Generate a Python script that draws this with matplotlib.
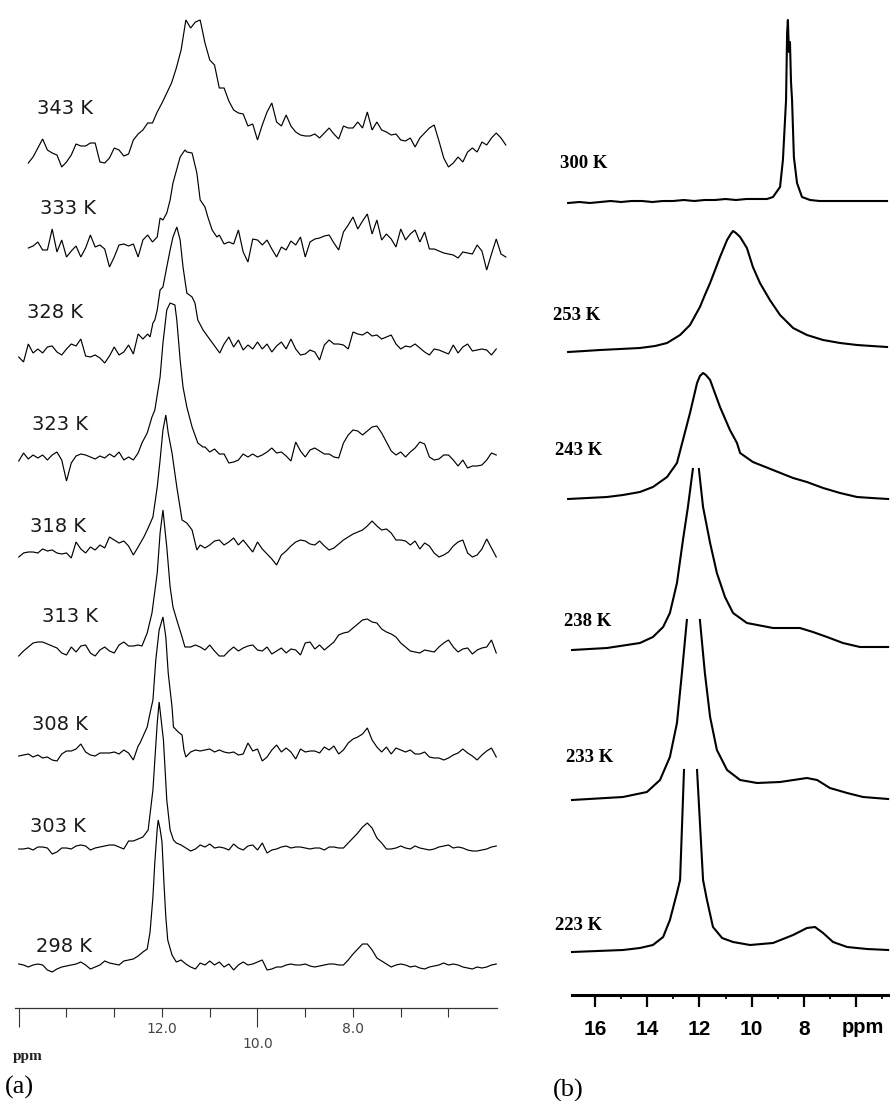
import numpy as np
import matplotlib
matplotlib.use("Agg")
import matplotlib.pyplot as plt
from matplotlib import transforms

N = None  # grid points replaced by the peak vertices

# ---------------- panel (a): 1H NMR, high temperature ----------------
labels_a = ["343 K", "333 K", "328 K", "323 K", "318 K", "313 K", "308 K", "303 K", "298 K"]
grid_start_a = [14.8, 14.8, 15.0, 15.0, 15.0, 15.0, 15.0, 15.0, 15.0]   # ppm of first sample
grid_step_a = 0.1                                                         # ppm per sample

int_343 = [-13, -7, 2, 11, 0, -3, -5, -17, -12, -5,
           6, 4, 4, 7, 7, -12, -13, -8, 2, 0,
           -6, -4, 10, 16, 20, 27, 27, 38, 47, 57,
           67, 82, 100, 130, 122, 128, 130, 107, 90, 85,
           62, 62, 49, 40, 37, 36, 24, 26, 10, 25,
           38, 47, 28, 24, 35, 24, 18, 15, 14, 14,
           16, 12, 17, 22, 16, 11, 24, 22, 22, 28,
           22, 38, 20, 28, 20, 18, 15, 16, 10, 9,
           12, 3, 12, 17, 22, 25, 9, -8, -17, -13,
           -7, -12, -2, 2, -2, 8, 5, 12, 17, 12, 5]
int_333 = [-1, 1, 5, -3, -3, 18, -5, 7, -10, -4,
           1, -10, -1, 12, 0, 2, -2, -20, -10, 2,
           3, 1, 3, -10, 7, 12, 5, N, N, N,
           N, N, N, N, N, N, N, N, N, N,
           12, 3, 5, 3, 17, -5, -15, 8, 7, 2,
           7, -2, -10, 0, -3, 6, 2, 10, -10, 5,
           8, 9, 11, 12, 4, -3, 15, 22, 30, 18,
           26, 33, 13, 27, 7, 13, 8, 0, 18, 7,
           13, 17, 5, 15, -2, -2, -4, -6, -7, -8,
           -11, -5, -6, -7, 2, -4, -23, -7, 8, -7, -10]
int_328 = [-5, -10, 8, -1, 3, -1, 5, 6, 0, -3,
           3, 8, 6, 13, -4, -5, -3, -6, -11, -4,
           5, -3, 0, 7, -2, 18, 13, 18, N, N,
           N, N, N, N, N, N, N, N, N, N,
           N, N, N, 8, 15, 5, 12, 2, 7, 3,
           10, 3, 8, 0, 6, 10, 3, 13, 3, -3,
           -2, 2, 0, -8, 7, 12, 8, 8, 7, 3,
           20, 18, 17, 20, 16, 17, 13, 15, 17, 8,
           3, 6, 5, 8, 4, 0, -3, 3, 2, 0,
           -2, 7, -1, 5, 8, 1, 2, 3, 2, -3, 3]
int_323 = [-4, 4, -2, 2, -1, 2, -3, 2, 5, -3,
           -24, -6, 1, 3, 2, 0, -2, 1, -1, 3,
           0, 5, -3, 0, -3, N, N, N, N, N,
           N, N, N, N, N, N, N, N, N, 10,
           5, 8, 3, 3, -6, -5, -3, 3, 0, 3,
           0, 2, 5, 9, 4, 5, 1, -4, 15, 6,
           0, 7, 9, 6, 3, 3, 0, -1, 14, 22,
           27, 26, 22, 26, 30, 31, 24, 15, 6, 2,
           5, 0, 5, 9, 15, 13, 0, -3, -2, 2,
           2, -3, -9, -3, -11, -9, -9, -8, -3, 4, 2]
int_318 = [-4, 0, 1, 1, 0, 4, 2, 3, 0, -1,
           0, -5, 11, 4, 0, 6, 3, 8, 5, 16,
           13, 10, 12, 7, -2, 6, N, N, N, N,
           N, N, N, N, N, N, N, N, 8, 5,
           8, 12, 13, 8, 11, 15, 8, 13, 7, 1,
           11, 4, -1, -6, -12, -2, 2, 7, 11, 13,
           12, 9, 8, 12, 7, 3, 5, 9, 13, 16,
           19, 21, 23, 27, 32, 27, 23, 24, 20, 13,
           13, 12, 8, 12, 4, 10, 7, 0, -4, -2,
           1, 7, 11, 13, 0, -4, -2, 4, 14, 5, -4]
int_313 = [-8, -3, 1, 5, 6, 6, 4, 2, 0, -5,
           -7, 1, -4, 2, 3, -5, -8, -2, 1, -3,
           -5, 3, 6, 2, 2, 3, N, N, N, N,
           N, N, N, N, N, N, 1, 3, 1, -2,
           3, -3, -8, -8, -3, 1, -3, 0, 2, 3,
           -2, -3, 1, -6, -3, 0, -5, -1, -2, -7,
           5, 6, -1, 3, -2, 2, 6, 13, 15, 16,
           20, 24, 28, 29, 26, 25, 19, 16, 14, 11,
           5, 1, -3, -4, -5, -2, -3, -4, 1, 5,
           8, 1, -4, -1, 0, -6, -2, 0, 1, 8, -5]
int_308 = [-1, 0, 1, -2, 0, -3, -2, -5, -6, 1,
           4, 4, 6, 11, 3, 0, -1, 2, 2, 2,
           3, 1, 5, 2, -5, 9, N, N, N, N,
           N, N, N, N, N, N, 3, 5, 4, 5,
           6, 3, 5, 3, 2, 3, 0, 1, 12, 4,
           6, -6, -2, 5, 10, 3, 7, 3, -4, 6,
           3, 4, 4, 2, 8, 5, 9, 1, 5, 12,
           16, 18, 21, 27, 15, 8, 3, 8, 1, 7,
           5, 3, 5, 1, 1, 3, -2, -3, -3, -5,
           -3, 0, 2, 6, 2, -1, -5, 0, 4, 7, -2]
int_303 = [-1, -1, 0, -2, 1, 1, 0, -6, -4, 0,
           0, -1, 2, 3, 2, -2, 0, 1, 2, 3,
           3, 1, -1, 7, 7, 9, N, N, N, N,
           N, N, N, 5, 3, 0, -3, -1, 3, 1,
           4, 0, 1, 0, -2, 4, 0, -2, 2, 3,
           -2, 5, -5, -2, -1, 1, 2, 0, 1, 1,
           0, -1, 0, 0, -2, 1, 1, 0, 0, 5,
           10, 15, 21, 25, 20, 10, 5, -1, -1, 0,
           2, 0, -1, 2, 0, -1, -2, -1, 1, 2,
           3, 0, 1, 0, -2, -3, -3, -2, -1, 1, 2]
int_298 = [3, 2, 0, 2, 3, 2, -3, -5, -2, 0,
           1, 2, 3, 5, 2, -2, 0, 2, 6, 4,
           3, 2, 6, 7, 8, 11, N, N, N, N,
           N, N, N, 5, 7, 3, 0, -2, 4, 2,
           6, 2, 5, 0, 3, -3, 2, 5, 2, 3,
           5, 7, -3, -2, 0, 0, 2, 3, 2, 2,
           3, 1, 0, 1, 2, 3, 3, 2, 2, 7,
           13, 18, 23, 23, 17, 9, 6, 3, 0, 2,
           3, 2, 0, 1, -1, -2, 0, 1, 2, 4,
           2, 3, 2, 0, -1, -2, 0, -1, 0, 2, 3]
grid_a = [int_343, int_333, int_328, int_323, int_318, int_313, int_308, int_303, int_298]

# main resonance of each spectrum, read at finer spacing (ppm, intensity)
pk_ppm_343, pk_int_343 = [], []
pk_ppm_333 = [12.10, 12.04, 11.98, 11.90, 11.83, 11.77, 11.62, 11.52, 11.48, 11.37, 11.27, 11.20, 11.10, 11.04, 10.95, 10.85]
pk_int_333 = [10, 29, 27, 34, 47, 64, 90, 97, 95, 94, 74, 47, 40, 30, 17, 10]
pk_ppm_328 = [12.25, 12.19, 12.15, 12.10, 12.04, 11.98, 11.90, 11.83, 11.77, 11.69, 11.62, 11.56, 11.48, 11.37, 11.31, 11.25, 11.14, 10.99, 10.79]
pk_int_328 = [15, 29, 32, 42, 62, 65, 85, 102, 115, 125, 112, 85, 59, 55, 49, 32, 22, 12, -1]
pk_ppm_323 = [12.50, 12.42, 12.31, 12.21, 12.15, 12.04, 11.98, 11.90, 11.83, 11.73, 11.69, 11.62, 11.56, 11.48, 11.37, 11.25, 11.14]
pk_int_323 = [4, 14, 24, 40, 47, 80, 114, 147, 154, 152, 137, 97, 70, 50, 30, 14, 10]
pk_ppm_318 = [12.38, 12.29, 12.19, 12.10, 12.04, 11.98, 11.92, 11.87, 11.79, 11.69, 11.58, 11.48, 11.37, 11.27]
pk_int_318 = [16, 25, 36, 66, 93, 123, 138, 120, 100, 66, 33, 30, 23, 3]
pk_ppm_313 = [12.42, 12.31, 12.21, 12.10, 12.04, 11.98, 11.90, 11.83, 11.77, 11.69, 11.58, 11.52]
pk_int_313 = [2, 15, 35, 75, 115, 138, 101, 61, 41, 28, 11, 1]
pk_ppm_308 = [12.46, 12.31, 12.25, 12.19, 12.13, 12.06, 11.98, 11.92, 11.87, 11.79, 11.76, 11.66, 11.58, 11.54, 11.50]
pk_int_308 = [12, 28, 42, 55, 95, 125, 138, 118, 82, 48, 28, 23, 20, 5, -2]
pk_ppm_303 = [12.40, 12.29, 12.19, 12.10, 12.06, 11.97, 11.90, 11.83, 11.76]
pk_int_303 = [11, 18, 58, 125, 146, 108, 48, 18, 8]
pk_ppm_298 = [12.40, 12.31, 12.25, 12.19, 12.15, 12.10, 12.08, 12.04, 12.00, 11.96, 11.92, 11.88, 11.79]
pk_int_298 = [15, 18, 35, 70, 105, 138, 147, 138, 125, 85, 50, 27, 12]
peaks_a = [(pk_ppm_343, pk_int_343), (pk_ppm_333, pk_int_333), (pk_ppm_328, pk_int_328),
           (pk_ppm_323, pk_int_323), (pk_ppm_318, pk_int_318), (pk_ppm_313, pk_int_313),
           (pk_ppm_308, pk_int_308), (pk_ppm_303, pk_int_303), (pk_ppm_298, pk_int_298)]

ticks_a_major = [15, 10]
ticks_a_minor = [14, 13, 12, 11, 9, 8, 7, 6]
ticklabels_a = [(12.0, "12.0", 0), (10.0, "10.0", 1), (8.0, "8.0", 0)]

# ---------------- panel (b): 1H NMR, low temperature ----------------
labels_b = ["300 K", "253 K", "243 K", "238 K", "233 K", "223 K"]
ppm_300 = [17.03, 16.6, 16.2, 15.8, 15.4, 15.0, 14.6, 14.2, 13.8, 13.4, 13.0, 12.6, 12.2, 11.8, 11.4, 11.0, 10.6, 10.2, 9.8, 9.41,
           9.18, 8.91, 8.80, 8.68, 8.64, 8.61, 8.57, 8.53, 8.49, 8.45, 8.38, 8.26, 8.07, 7.76, 7.4, 7.0, 6.6, 6.2, 5.8, 5.4, 5.0, 4.81]
int_300 = [-1, 0, -1, 0, 1, 0, 1, 1, 0, 1, 1, 2, 1, 2, 2, 3, 2, 3, 3, 3,
           5, 15, 42, 102, 169, 182, 150, 160, 120, 102, 45, 19, 5, 2, 1, 1, 1, 1, 1, 1, 1, 1]
ppm_253 = [17.03, 16.4, 15.81, 15.04, 14.28, 13.7, 13.24, 12.74, 12.36, 11.98, 11.79, 11.59, 11.40, 11.21, 10.94, 10.80,
           10.71, 10.60, 10.44, 10.18, 9.95, 9.68, 9.30, 8.91, 8.41, 7.88, 7.26, 6.61, 5.96, 5.4, 4.81]
int_253 = [-1, 0, 1, 2, 3, 5, 8, 16, 26, 44, 56, 68, 81, 94, 111, 117,
           120, 118, 114, 103, 84, 68, 51, 36, 23, 16, 11, 8, 6, 5, 4]
ppm_243 = [17.03, 15.54, 14.93, 14.28, 13.78, 13.24, 12.86, 12.63, 12.36, 12.09, 11.98, 11.86, 11.75, 11.59,
           11.21, 10.83, 10.56, 10.44, 9.95, 9.18, 8.41, 7.88, 7.26, 6.61, 5.96, 5.4, 4.77]
int_243 = [0, 2, 4, 7, 12, 22, 36, 59, 86, 116, 123, 126, 124, 119,
           92, 69, 56, 46, 37, 29, 21, 17, 11, 6, 2, 1, 0]
# off-scale tops are cut in the original figure (nan = cut)
ppm_238 = [16.88, 15.54, 14.28, 13.78, 13.39, 13.13, 12.86, 12.63, 12.44, 12.25, np.nan, 12.02, 11.86, 11.59, 11.33,
           11.02, 10.71, 10.18, 9.18, 8.15, 7.65, 7.11, 6.50, 5.85, 4.77]
int_238 = [-1, 1, 6, 12, 22, 36, 66, 109, 142, 180, np.nan, 180, 142, 106, 76,
           52, 36, 26, 21, 21, 17, 12, 6, 2, 2]
ppm_233 = [16.88, 14.93, 14.01, 13.51, 13.13, 12.86, 12.67, 12.48, np.nan, 11.98, 11.79, 11.59, 11.33, 10.94,
           10.44, 9.79, 8.91, 7.88, 7.49, 7.00, 6.34, 5.73, 4.77]
int_233 = [0, 3, 8, 20, 43, 77, 127, 180, np.nan, 180, 127, 83, 50, 30,
           20, 17, 18, 22, 20, 12, 7, 3, 1]
ppm_223 = [16.88, 14.93, 14.28, 13.78, 13.39, 13.13, 12.86, 12.74, 12.59, np.nan, 12.09, 11.86, 11.71, 11.48, 11.13,
           10.71, 10.06, 9.18, 8.41, 7.88, 7.57, 7.26, 6.88, 6.34, 5.58, 4.77]
int_223 = [0, 2, 4, 7, 15, 32, 59, 72, 182, np.nan, 182, 72, 52, 25, 14,
           10, 7, 9, 17, 24, 25, 19, 10, 5, 3, 2]
spectra_b = [(ppm_300, int_300), (ppm_253, int_253), (ppm_243, int_243),
             (ppm_238, int_238), (ppm_233, int_233), (ppm_223, int_223)]

ticks_b_major = [16, 14, 12, 10, 8, 6]
ticks_b_minor = [15, 13, 11, 9, 7, 5]
ticklabels_b = ["16", "14", "12", "10", "8"]

# ---------------- layout (pixels of the 891 x 1101 figure) ----------------
W, H = 891, 1101
base_px_a = [150, 247, 352, 457, 553, 648, 755, 848, 967]
label_xy_a = [(37, 108), (40, 208), (27, 312), (32, 423), (30, 525), (42, 615), (32, 723), (30, 825), (36, 945)]
base_px_b = [202, 351, 499, 649, 800, 952]
label_xy_b = [(560, 162), (553, 314), (555, 450), (564, 620), (566, 756), (555, 925)]

fig = plt.figure(figsize=(W / 100, H / 100), dpi=100)
fig.patch.set_facecolor("white")


def fx(x):
    return x / W


def fy(y):
    return 1 - y / H


def build(start, vals, pk_ppm, pk_int):
    ppm = [start - grid_step_a * i for i, v in enumerate(vals) if v is not None]
    y = [v for v in vals if v is not None]
    ppm = np.array(ppm + list(pk_ppm), dtype=float)
    y = np.array(y + list(pk_int), dtype=float)
    order = np.argsort(-ppm)
    return ppm[order], y[order]


# ---- panel (a) axes: x 15..497 px, axis line at y=1008 px
ax_a = fig.add_axes([fx(15), fy(1008), (497 - 15) / W, 1008 / H])
ax_a.set_xlim(12 + (162 - 15) / 47.75, 12 - (497 - 162) / 47.75)
ax_a.set_ylim(0, 1008)
ax_a.patch.set_visible(False)
for s in ["top", "left", "right"]:
    ax_a.spines[s].set_visible(False)
ax_a.spines["bottom"].set_color("#333333")
ax_a.spines["bottom"].set_linewidth(0.9)
ax_a.set_yticks([])
ax_a.set_xticks(ticks_a_major)
ax_a.set_xticks(ticks_a_minor, minor=True)
ax_a.tick_params(axis="x", which="major", direction="out", length=13.5, width=0.8, color="#333333", labelbottom=False)
ax_a.tick_params(axis="x", which="minor", direction="out", length=6.5, width=0.8, color="#333333")

for k in range(len(labels_a)):
    ppm, y = build(grid_start_a[k], grid_a[k], *peaks_a[k])
    off = 1008 - base_px_a[k]
    ax_a.plot(ppm, off + y, color="black", lw=0.85, clip_on=False, solid_joinstyle="miter")
    lx, ly = label_xy_a[k]
    fig.text(fx(lx), fy(ly + 6.5), labels_a[k], ha="left", va="baseline",
             fontsize=14, family="DejaVu Sans", color="#1a1a1a")

trans_a = transforms.blended_transform_factory(ax_a.transData, fig.transFigure)
for val, txt, low in ticklabels_a:
    ax_a.text(val, fy(1033 + 15 * low), txt, transform=trans_a, ha="center", va="baseline",
              fontsize=10, family="DejaVu Sans", color="#444444")
fig.text(fx(13), fy(1060), "ppm", ha="left", va="baseline", fontsize=11,
         family="Liberation Serif", fontweight="bold", color="#222222")
fig.text(fx(5), fy(1094), "(a)", ha="left", va="baseline", fontsize=19,
         family="Liberation Serif", color="black")

# ---- panel (b) axes: x 572..888 px, axis line at y=995 px
ax_b = fig.add_axes([fx(572), fy(995), (888 - 572) / W, 995 / H])
ax_b.set_xlim(16 + (595 - 572) / 26.1, 16 - (888 - 595) / 26.1)
ax_b.set_ylim(0, 995)
ax_b.patch.set_visible(False)
for s in ["top", "left", "right"]:
    ax_b.spines[s].set_visible(False)
ax_b.spines["bottom"].set_color("black")
ax_b.spines["bottom"].set_linewidth(2.2)
ax_b.set_yticks([])
ax_b.set_xticks(ticks_b_major)
ax_b.set_xticks(ticks_b_minor, minor=True)
ax_b.tick_params(axis="x", which="major", direction="out", length=8.5, width=1.6, color="black", labelbottom=False)
ax_b.tick_params(axis="x", which="minor", direction="out", length=3, width=1.3, color="black")

for k in range(len(labels_b)):
    ppm, y = spectra_b[k]
    off = 995 - base_px_b[k]
    ax_b.plot(ppm, off + np.array(y, dtype=float), color="black", lw=1.5, clip_on=False)
    lx, ly = label_xy_b[k]
    fig.text(fx(lx), fy(ly + 5.5), labels_b[k], ha="left", va="baseline", fontsize=13.5,
             family="Liberation Serif", fontweight="bold", color="black")

trans_b = transforms.blended_transform_factory(ax_b.transData, fig.transFigure)
for val, txt in zip(ticks_b_major, ticklabels_b):
    ax_b.text(val, fy(1035), txt, transform=trans_b, ha="center", va="baseline",
              fontsize=15, family="Liberation Sans", fontweight="bold", color="black")
fig.text(fx(842), fy(1033), "ppm", ha="left", va="baseline", fontsize=14.5,
         family="Liberation Sans", fontweight="bold", color="black")
fig.text(fx(553), fy(1097), "(b)", ha="left", va="baseline", fontsize=19,
         family="Liberation Serif", color="black")

fig.savefig("out.png", dpi=100, facecolor="white")
